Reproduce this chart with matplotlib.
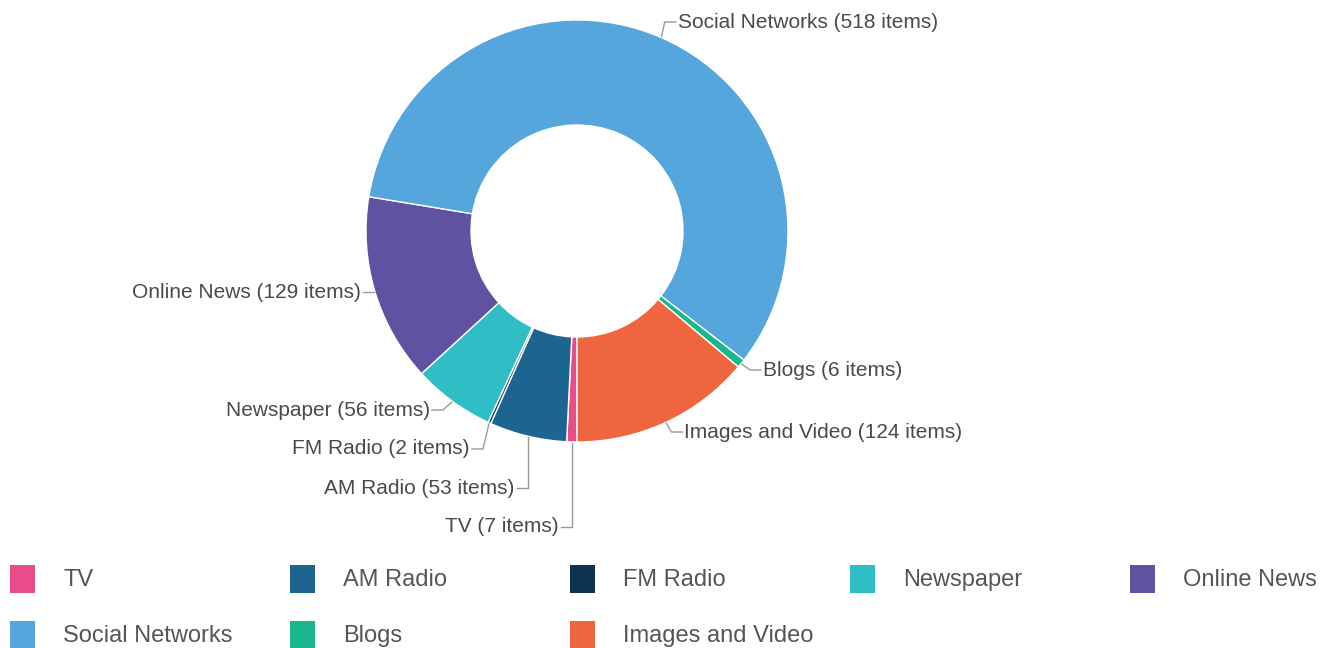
"""
Donut chart of coverage items by media type, with leader-line labels
and a five-column legend underneath.
"""

import numpy as np
import matplotlib.pyplot as plt
from matplotlib.patches import Rectangle

# ---- Data ------------------------------------------------------------
CATEGORIES = ['TV', 'AM Radio', 'FM Radio', 'Newspaper', 'Online News',
              'Social Networks', 'Blogs', 'Images and Video']
ITEMS = [7, 53, 2, 56, 129, 518, 6, 124]
COLORS = ['#e94c8b', '#1d6591', '#0e3450', '#30bec6', '#5f52a1',
          '#55a6dc', '#1ab68e', '#ef653f']

# ---- Layout (pixel space, y grows downwards) -------------------------
W, H = 1324, 648
CENTER = (577, 231)
R_OUT = 211
R_IN = 106

# label row (y) and elbow shift for each slice's leader line
LABEL_Y  = [527, 488, 449, 410, 292, 22, 370, 432]
ELBOW_DX = [0, 0, -6, -9, 0, 3, 8, 5]
TAIL = 11

TEXT_COLOR = '#4a4a4a'
LEADER_COLOR = '#9a9a9a'
FONT = 'Liberation Sans'


def main():
    fig = plt.figure(figsize=(W / 100, H / 100), dpi=100)
    ax = fig.add_axes([0, 0, 1, 1])

    wedges, _ = ax.pie(
        ITEMS, colors=COLORS, center=CENTER, radius=R_OUT,
        startangle=90, counterclock=True,
        wedgeprops=dict(width=R_OUT - R_IN, edgecolor='white', linewidth=1.0),
    )
    ax.set_xlim(0, W)
    ax.set_ylim(H, 0)
    ax.set_aspect('equal', adjustable='box')
    ax.set_axis_off()

    # leader lines + labels
    for w, name, n, ly, edx in zip(wedges, CATEGORIES, ITEMS, LABEL_Y, ELBOW_DX):
        mid = np.deg2rad((w.theta1 + w.theta2) / 2)
        ax_x = CENTER[0] + (R_OUT + 1) * np.cos(mid)
        ax_y = CENTER[1] + (R_OUT + 1) * np.sin(mid)
        left = ax_x < CENTER[0]
        ex = ax_x + edx
        tx = ex - TAIL if left else ex + TAIL
        ax.plot([ax_x, ex, tx], [ax_y, ly, ly], color=LEADER_COLOR, lw=1.0)
        ax.text(tx - 2 if left else tx + 2, ly, f'{name} ({n} items)',
                ha='right' if left else 'left', va='center',
                fontsize=15, color=TEXT_COLOR, family=FONT)

    # legend, five columns
    for i, (name, c) in enumerate(zip(CATEGORIES, COLORS)):
        col, row = i % 5, i // 5
        x0 = 10 + col * 280
        yc = 579 + row * 56
        ax.add_patch(Rectangle((x0, yc - 14), 25, 28, facecolor=c,
                               edgecolor='none', clip_on=False))
        ax.text(x0 + 53, yc + 1, name, ha='left', va='center',
                fontsize=17, color='#555555', family=FONT)

    fig.savefig('out.png', dpi=100, facecolor='white')


if __name__ == '__main__':
    main()
